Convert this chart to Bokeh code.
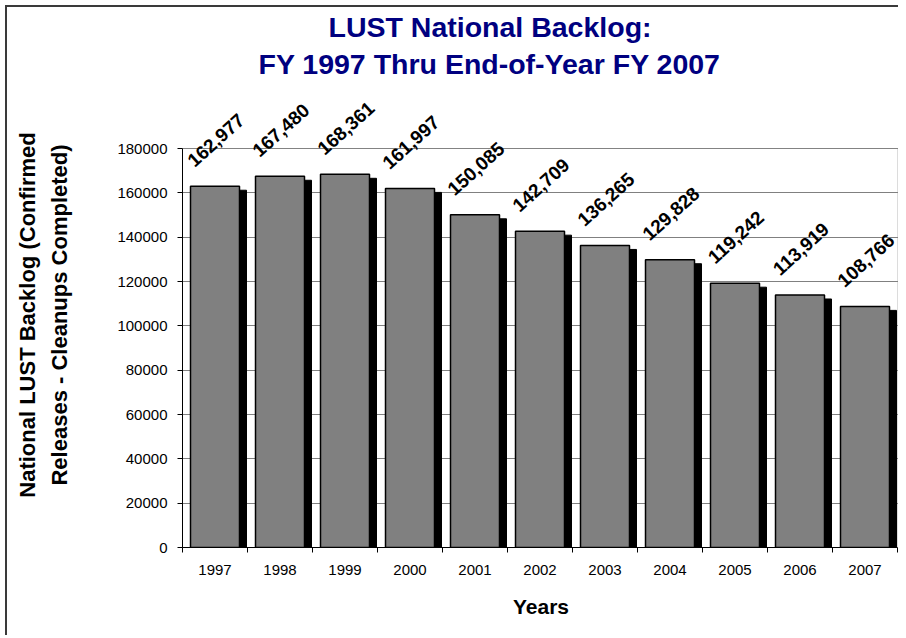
from bokeh.plotting import figure
from bokeh.models import (Range1d, FixedTicker, LabelSet, ColumnDataSource,
                          BoxAnnotation, Title)
from bokeh.core.properties import value
from bokeh.embed import file_html
from bokeh.resources import INLINE

# ---- data ----
years = ["1997", "1998", "1999", "2000", "2001", "2002", "2003", "2004", "2005", "2006", "2007"]
backlog = [162977, 167480, 168361, 161997, 150085, 142709, 136265, 129828, 119242, 113919, 108766]
y_ticks = [0, 20000, 40000, 60000, 80000, 100000, 120000, 140000, 160000, 180000]
title_lines = ["LUST National Backlog:", "FY 1997 Thru End-of-Year FY 2007"]
y_title_lines = ["National LUST Backlog (Confirmed", "Releases - Cleanups Completed)"]
x_title = "Years"

# ---- layout (canvas pixels) ----
n = len(years)
cat_px = 65.0
FL, FT, FB = 175, 75, 540
FR = FL + int(cat_px * n) + 2
W, H = FR + 1, 630
AREA_PX = 399                                 # pixels from 0 to top tick
y_top_tick = y_ticks[-1]
y_end = y_top_tick * (FB - FT) / AREA_PX
x_end = n - 0.5 + 2 / cat_px

FONT = "Liberation Sans"

p = figure(width=W, height=H, output_backend="svg", toolbar_location=None,
           x_range=Range1d(-0.5, x_end), y_range=Range1d(0, y_end),
           min_border_left=FL, min_border_right=W - FR,
           min_border_top=FT, min_border_bottom=H - FB)
p.outline_line_color = None
p.background_fill_color = "white"
p.border_fill_color = "white"
p.styles = {"margin-left": "5px", "margin-top": "5px",
            "border-left": "2px solid #3a3a3a", "border-top": "2px solid #3a3a3a"}

xs = list(range(n))
shadow_dx = 7 / cat_px
shadow_dy = 4 * y_end / (FB - FT)
bar_w = 49 / cat_px

src = ColumnDataSource(dict(
    x=xs,
    xs=[x + shadow_dx for x in xs],
    v=backlog,
    vs=[v - shadow_dy for v in backlog],
    lab=[f"{v:,}" for v in backlog],
))

# plot area border
p.add_layout(BoxAnnotation(left=-0.5, right=n - 0.5, bottom=0, top=y_top_tick,
                           fill_alpha=0, line_color="#8c8c8c", line_width=1, level="underlay"))

p.vbar(x="xs", top="vs", bottom=0, width=bar_w, source=src,
       fill_color="black", line_color="black")
p.vbar(x="x", top="v", bottom=0, width=bar_w, source=src,
       fill_color="#808080", line_color="black", line_width=1.5)

p.add_layout(LabelSet(x="x", y="v", text="lab", source=src, angle=42, angle_units="deg",
                      text_align="center", text_baseline="middle", y_offset=46, x_offset=1,
                      text_font=value(FONT), text_font_style="bold", text_font_size="19px",
                      text_color="black"))

# axes
yax = p.yaxis[0]
yax.ticker = FixedTicker(ticks=y_ticks)
yax.bounds = (0, y_top_tick)
yax.major_label_overrides = {t: str(t) for t in y_ticks}
yax.major_label_text_font = FONT
yax.major_label_text_font_size = "15px"
yax.major_label_text_color = "black"
yax.major_tick_in = 0
yax.major_tick_out = 5
yax.minor_tick_line_color = None
yax.axis_line_color = "black"
yax.major_tick_line_color = "black"
yax.major_label_standoff = 10
yax.axis_label = "\n".join(y_title_lines)
yax.axis_label_text_font = FONT
yax.axis_label_text_font_style = "bold"
yax.axis_label_text_font_size = "22px"
yax.axis_label_text_color = "black"
yax.axis_label_text_line_height = 1.28
yax.axis_label_standoff = 42

xax = p.xaxis[0]
xax.ticker = FixedTicker(ticks=xs, minor_ticks=[x - 0.5 for x in xs] + [n - 0.5])
xax.bounds = (-0.5, n - 0.5)
xax.major_label_overrides = {i: y for i, y in enumerate(years)}
xax.major_label_text_font = FONT
xax.major_label_text_font_size = "15px"
xax.major_label_text_color = "black"
xax.major_tick_line_color = None
xax.major_tick_in = 0
xax.major_tick_out = 5
xax.minor_tick_in = 0
xax.minor_tick_out = 5
xax.minor_tick_line_color = "black"
xax.axis_line_color = "black"
xax.major_label_standoff = 12
xax.axis_label = x_title
xax.axis_label_text_font = FONT
xax.axis_label_text_font_style = "bold"
xax.axis_label_text_font_size = "21px"
xax.axis_label_text_color = "black"
xax.axis_label_standoff = 17

p.xgrid.visible = False
p.ygrid.grid_line_color = "#808080"
p.ygrid.grid_line_width = 1

# title: two lines (second added first so that it sits nearest the frame)
for txt, off, so in [(title_lines[1], 76, 6), (title_lines[0], 146, 0)]:
    p.add_layout(Title(text=txt, align="left", offset=off,
                       text_font=FONT, text_font_style="bold", text_font_size="28.5px",
                       text_color="#000080", standoff=so), "above")

open("out.html", "w").write(file_html(p, INLINE))
